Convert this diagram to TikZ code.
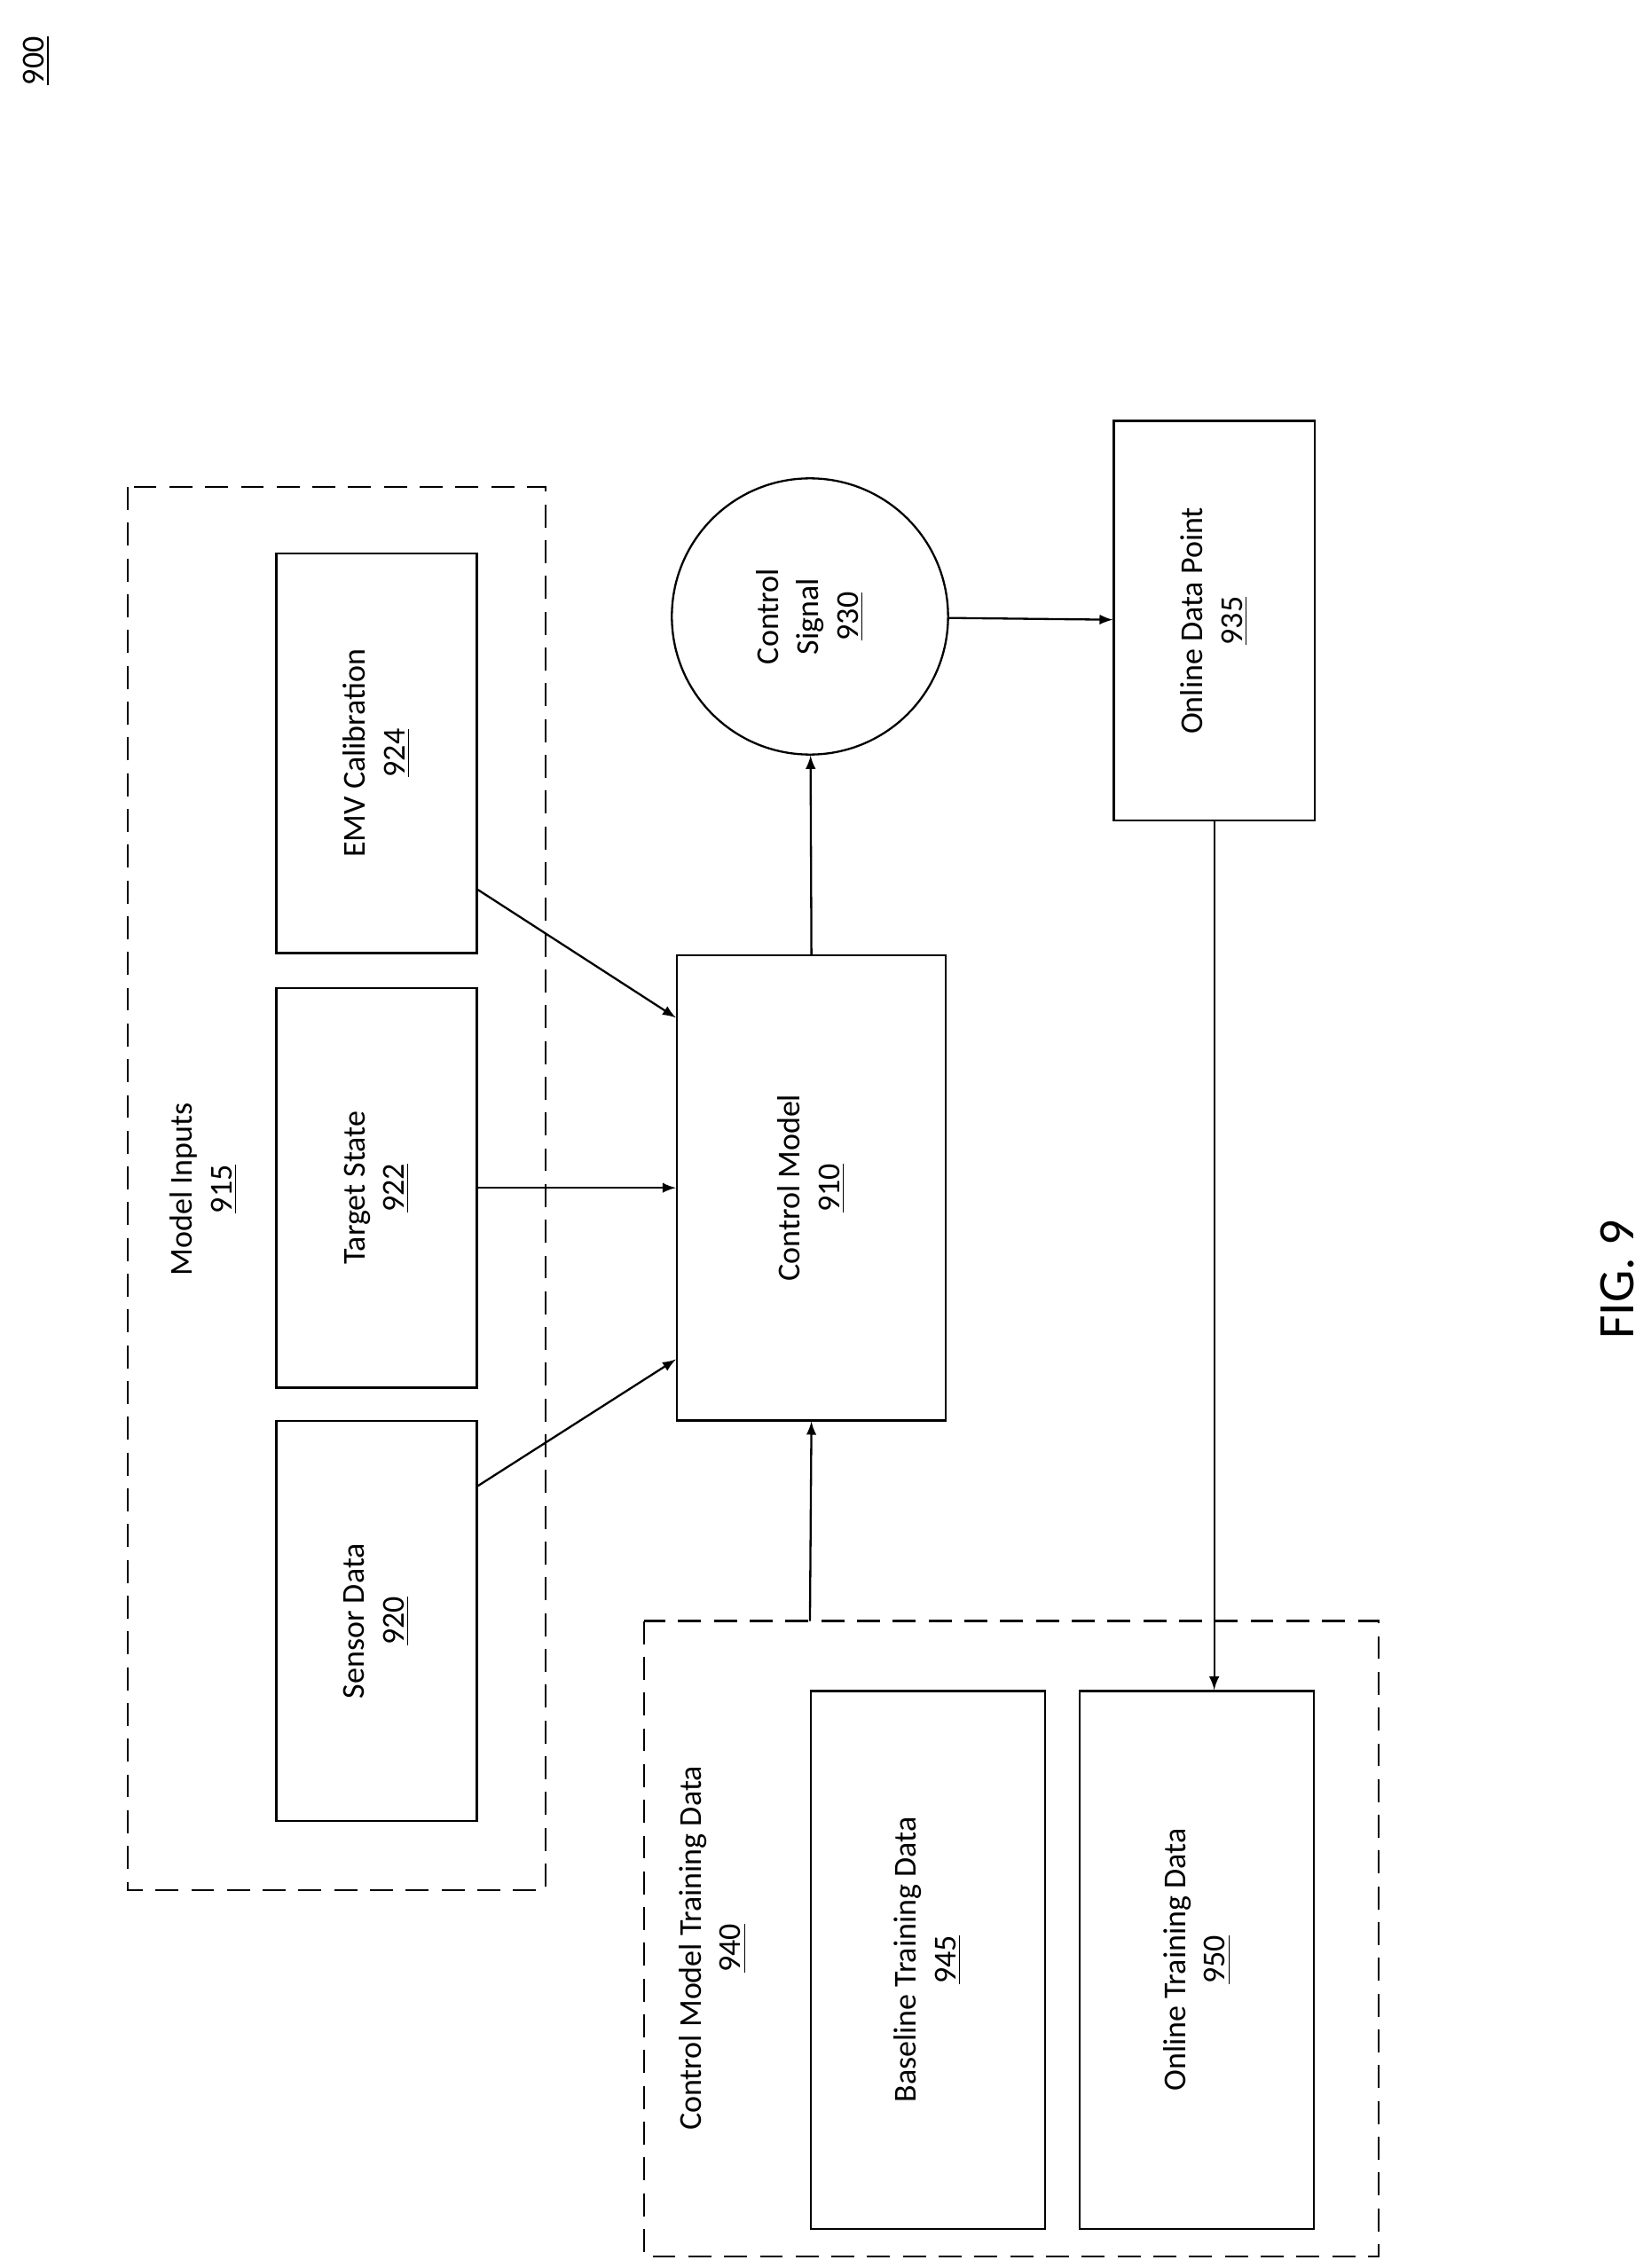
\documentclass[tikz,border=0pt]{standalone}
\usepackage{fontspec}
\setmainfont{Carlito}
\usetikzlibrary{positioning}
\usetikzlibrary{arrows}
\begin{document}
\begin{tikzpicture}[
            x = 0.02cm, y = -0.02cm,
            > = stealth, % arrow head style
            font = \fontsize{12.5}{15.5}\selectfont,
            semithick
        ]

        \tikzset{
            blk/.style = {draw, thick, rotate=90, align=center, inner sep=0pt},
            grp/.style = {draw, thick, dashed, dash pattern=on 9pt off 5pt},
            flow/.style = {->, thick, >=latex}
        }

        \useasboundingbox (0,0) rectangle (1135,1560);

        \node[rotate=90] (fig) at (25,42) {\underline{900}};

	% model inputs
        \draw[grp] (88,335) rectangle (375,1300);
        \node[rotate=90, align=center] (MI) at (140,818) {Model Inputs\\\underline{915}};
        \node[blk, minimum width=5.5cm, minimum height=2.76cm] (SD) at (259,1115) {Sensor Data\\\underline{920}};
        \node[blk, minimum width=5.5cm, minimum height=2.76cm] (TS) at (259,817) {Target State\\\underline{922}};
        \node[blk, minimum width=5.5cm, minimum height=2.76cm] (EMV) at (259,518) {EMV Calibration\\\underline{924}};

         % control model and outputs
        \node[blk, minimum width=6.4cm, minimum height=3.7cm] (CM) at (558,817) {Control Model\\\underline{910}};
        \node[draw, thick, circle, minimum size=3.8cm, rotate=90, align=center] (CS) at (557,424) {Control\\Signal\\\underline{930}};
        \node[blk, minimum width=5.5cm, minimum height=2.76cm] (ODP) at (835,427) {Online Data Point\\\underline{935}};

         % training data
        \draw[grp] (443,1115) rectangle (948,1552);
        \node[rotate=90, align=center] (TD) at (490,1340) {Control Model Training Data\\\underline{940}};
        \node[blk, minimum width=7.4cm, minimum height=3.22cm] (BTD) at (638,1348) {Baseline Training Data\\\underline{945}};
        \node[blk, minimum width=7.4cm, minimum height=3.22cm] (OTD) at (823,1348) {Online Training Data\\\underline{950}};

        \coordinate (TDtop) at (557,1115);

        \draw[flow] (EMV.south east |- 0,612) -- (CM.north east |- 0,700);
        \draw[flow] (TS) -- (CM);
        \draw[flow] (SD.south west |- 0,1022) -- (CM.north west |- 0,935);
        \draw[flow] (TDtop) -- (CM.west);
        \draw[flow] (CM.east) -- (CS);
        \draw[flow] (CS) -- (ODP);
        \draw[flow] (ODP.west) -- (OTD.east -| ODP.west);

        \node[rotate=90, font=\fontsize{20}{24}\selectfont] (lbl) at (1112,880) {FIG. 9};
  \end{tikzpicture}
\end{document}
